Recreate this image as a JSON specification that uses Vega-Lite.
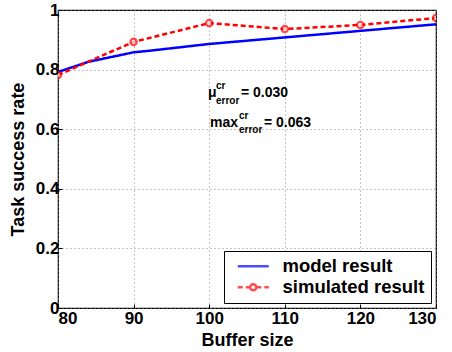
{
  "$schema": "https://vega.github.io/schema/vega-lite/v6.json",
  "width": 378,
  "height": 298,
  "autosize": {"type": "none"},
  "padding": {"left": 58, "top": 10, "right": 16, "bottom": 44},
  "background": "white",
  "config": {
    "font": "Liberation Sans",
    "view": {"stroke": "black", "strokeWidth": 1.2},
    "axis": {
      "labelFont": "Liberation Sans",
      "labelFontWeight": "bold",
      "labelFontSize": 17,
      "labelColor": "black",
      "titleFont": "Liberation Sans",
      "titleFontWeight": "bold",
      "titleFontSize": 18,
      "titleColor": "black",
      "domain": false,
      "tickColor": "black",
      "tickSize": -4,
      "grid": true,
      "gridColor": "#888888",
      "gridDash": [1, 3],
      "gridWidth": 1
    }
  },
  "datasets": {
    "lines": [
      {"buffer": 80, "rate": 0.792, "series": "model result"},
      {"buffer": 84, "rate": 0.826, "series": "model result"},
      {"buffer": 90, "rate": 0.858, "series": "model result"},
      {"buffer": 92, "rate": 0.863, "series": "model result"},
      {"buffer": 100, "rate": 0.886, "series": "model result"},
      {"buffer": 110, "rate": 0.908, "series": "model result"},
      {"buffer": 120, "rate": 0.930, "series": "model result"},
      {"buffer": 130, "rate": 0.952, "series": "model result"},
      {"buffer": 80, "rate": 0.782, "series": "simulated result"},
      {"buffer": 90, "rate": 0.893, "series": "simulated result"},
      {"buffer": 100, "rate": 0.956, "series": "simulated result"},
      {"buffer": 110, "rate": 0.936, "series": "simulated result"},
      {"buffer": 120, "rate": 0.950, "series": "simulated result"},
      {"buffer": 130, "rate": 0.973, "series": "simulated result"}
    ],
    "main": [
      {"x": 99.84, "y": 0.7215, "t": "μ"},
      {"x": 104.2, "y": 0.7215, "t": "= 0.030"},
      {"x": 100.1, "y": 0.621, "t": "max"},
      {"x": 107.25, "y": 0.621, "t": "= 0.063"}
    ],
    "sup": [
      {"x": 100.9, "y": 0.744, "t": "cr"},
      {"x": 103.94, "y": 0.6436, "t": "cr"}
    ],
    "sub": [
      {"x": 100.9, "y": 0.696, "t": "error"},
      {"x": 103.94, "y": 0.5967, "t": "error"}
    ]
  },
  "layer": [
    {
      "data": {"name": "lines"},
      "mark": {"type": "line", "strokeWidth": 2.5, "clip": true},
      "encoding": {
        "x": {
          "field": "buffer", "type": "quantitative",
          "scale": {"domain": [80, 130], "nice": false, "zero": false},
          "axis": {"values": [80, 90, 100, 110, 120, 130], "title": "Buffer size", "titlePadding": 5, "labelPadding": 6}
        },
        "y": {
          "field": "rate", "type": "quantitative",
          "scale": {"domain": [0, 1], "nice": false},
          "axis": {"values": [0, 0.2, 0.4, 0.6, 0.8, 1], "labelExpr": "format(datum.value, '~g')", "title": "Task success rate", "titlePadding": 8, "labelPadding": 3}
        },
        "color": {
          "field": "series", "type": "nominal",
          "scale": {"domain": ["model result", "simulated result"], "range": ["#0000ff", "#ff0000"]},
          "legend": {
            "title": null,
            "orient": "bottom-right",
            "offset": 5,
            "fillColor": "white",
            "strokeColor": "black",
            "padding": 6,
            "symbolSize": 107,
            "symbolStrokeWidth": 2.5,
            "symbolOffset": 14,
            "labelOffset": 20,
            "labelFont": "Liberation Sans",
            "labelFontWeight": "bold",
            "labelFontSize": 18.5,
            "labelColor": "black",
            "rowPadding": 2
          }
        },
        "strokeDash": {
          "field": "series", "type": "nominal",
          "scale": {"domain": ["model result", "simulated result"], "range": [[1, 0], [5, 3]]}
        }
      }
    },
    {
      "data": {"name": "lines"},
      "transform": [{"filter": "datum.rate > 2"}],
      "mark": {"type": "point", "filled": false, "strokeWidth": 2.5},
      "encoding": {
        "x": {"field": "buffer", "type": "quantitative"},
        "y": {"field": "rate", "type": "quantitative"},
        "color": {"field": "series", "type": "nominal"},
        "strokeDash": {"field": "series", "type": "nominal"},
        "shape": {
          "field": "series", "type": "nominal",
          "scale": {"domain": ["model result", "simulated result"], "range": ["M-3,0H3", "M-3,0H-0.6M0.6,0H3M0.6,0A0.6,0.6 0 0,1 0,0.6M0,0.6A0.6,0.6 0 0,1 -0.6,0M-0.6,0A0.6,0.6 0 0,1 0,-0.6M0,-0.6A0.6,0.6 0 0,1 0.6,0"]}
        }
      }
    },
    {
      "data": {"name": "lines"},
      "transform": [{"filter": "datum.series == 'simulated result'"}],
      "mark": {"type": "point", "shape": "circle", "filled": true, "fill": "white", "stroke": "#ff0000", "strokeWidth": 2.2, "size": 40, "clip": true},
      "encoding": {
        "x": {"field": "buffer", "type": "quantitative"},
        "y": {"field": "rate", "type": "quantitative"}
      }
    },
    {
      "data": {"name": "main"},
      "mark": {"type": "text", "align": "left", "baseline": "middle", "fontSize": 14, "fontWeight": "bold", "font": "Liberation Sans", "color": "black"},
      "encoding": {
        "x": {"field": "x", "type": "quantitative"},
        "y": {"field": "y", "type": "quantitative"},
        "text": {"field": "t"}
      }
    },
    {
      "data": {"name": "sup"},
      "mark": {"type": "text", "align": "left", "baseline": "middle", "fontSize": 10, "fontWeight": "bold", "font": "Liberation Sans", "color": "black"},
      "encoding": {
        "x": {"field": "x", "type": "quantitative"},
        "y": {"field": "y", "type": "quantitative"},
        "text": {"field": "t"}
      }
    },
    {
      "data": {"name": "sub"},
      "mark": {"type": "text", "align": "left", "baseline": "middle", "fontSize": 10, "fontWeight": "bold", "font": "Liberation Sans", "color": "black"},
      "encoding": {
        "x": {"field": "x", "type": "quantitative"},
        "y": {"field": "y", "type": "quantitative"},
        "text": {"field": "t"}
      }
    }
  ]
}
